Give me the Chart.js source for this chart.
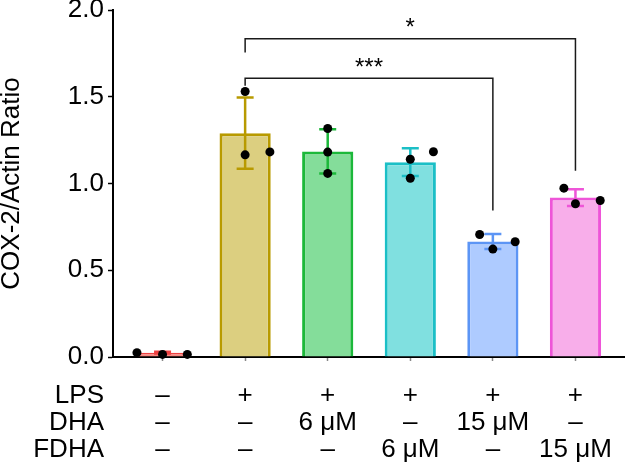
<!DOCTYPE html>
<html><head><meta charset="utf-8">
<script src="https://cdn.jsdelivr.net/npm/chart.js@4"></script>
<style>html,body{margin:0;padding:0;background:#fff}</style>
</head><body>
<canvas id="c" width="625" height="464"></canvas>
<script>
// ---- data ----
const groups = [0, 1, 2, 3, 4, 5];
const means = [0.025, 1.29, 1.185, 1.123, 0.666, 0.919];
const sds = [0.005, 0.205, 0.128, 0.08, 0.043, 0.048];
const replicates = [
  [0.025, 0.015, 0.015],
  [1.53, 1.165, 1.182],
  [1.317, 1.181, 1.058],
  [1.14, 1.03, 1.183],
  [0.706, 0.622, 0.664],
  [0.973, 0.883, 0.902]
];
const jitter = [
  [-0.31, 0, 0.3],
  [0, 0, 0.3],
  [0, 0, 0],
  [0, 0, 0.28],
  [-0.16, 0, 0.27],
  [-0.14, 0, 0.3]
];
const lpsRow = ['–', '+', '+', '+', '+', '+'];
const dhaRow = ['–', '–', '6 μM', '–', '15 μM', '–'];
const fdhaRow = ['–', '–', '–', '6 μM', '–', '15 μM'];
const rowNames = ['LPS', 'DHA', 'FDHA'];
const yTicks = [0, 0.5, 1.0, 1.5, 2.0];
const brackets = [
  { from: 1, to: 4, y: 1.607, leftEnd: 1.563, rightEnd: 0.845, label: '***' },
  { from: 1, to: 5, y: 1.835, leftEnd: 1.755, rightEnd: 1.073, label: '*' }
];

// ---- styles ----
const fills = ['#f8867f', '#dccf80', '#84dd9a', '#80e0e0', '#aecbff', '#f8aeea'];
const borders = ['#ee4040', '#b89a00', '#1cb83a', '#1bbfc6', '#5c95f5', '#ee55d8'];
const FONT = '"Liberation Sans", Arial, sans-serif';
const FS = 26;

const extras = {
  id: 'extras',
  afterDatasetDraw(chart, args) {
    if (args.index !== 0) return;
    const { ctx, scales: { x, y } } = chart;
    ctx.save();
    ctx.lineWidth = 2.5;
    groups.forEach((g, i) => {
      const px = x.getPixelForValue(g);
      const top = y.getPixelForValue(means[i] + sds[i]);
      const bot = y.getPixelForValue(means[i] - sds[i]);
      ctx.strokeStyle = borders[i];
      ctx.beginPath();
      ctx.moveTo(px, top); ctx.lineTo(px, bot);
      ctx.moveTo(px - 8.5, top); ctx.lineTo(px + 8.5, top);
      ctx.moveTo(px - 8.5, bot); ctx.lineTo(px + 8.5, bot);
      ctx.stroke();
    });
    ctx.restore();
  },
  afterDraw(chart) {
    const { ctx, scales: { x, y } } = chart;
    ctx.save();
    // significance brackets
    ctx.strokeStyle = '#1a1a1a';
    ctx.lineWidth = 1.5;
    ctx.fillStyle = '#000';
    ctx.font = '24px ' + FONT;
    ctx.textAlign = 'center';
    ctx.textBaseline = 'alphabetic';
    brackets.forEach(b => {
      const x1 = x.getPixelForValue(b.from), x2 = x.getPixelForValue(b.to);
      const yy = y.getPixelForValue(b.y);
      ctx.beginPath();
      ctx.moveTo(x1, y.getPixelForValue(b.leftEnd));
      ctx.lineTo(x1, yy); ctx.lineTo(x2, yy);
      ctx.lineTo(x2, y.getPixelForValue(b.rightEnd));
      ctx.stroke();
      ctx.fillText(b.label, (x1 + x2) / 2, yy - 3.5);
    });
    // row names of the treatment table
    ctx.font = FS + 'px ' + FONT;
    ctx.textAlign = 'right';
    ctx.textBaseline = 'middle';
    const lh = 27;
    const startY = x.top + 4 + 21;
    rowNames.forEach((n, i) => {
      ctx.fillText(n, 104, startY + lh * (i + 0.5));
    });
    ctx.restore();
  }
};

const points = [];
groups.forEach((g, i) => replicates[i].forEach((v, j) => points.push({ x: g + jitter[i][j], y: v })));

new Chart(document.getElementById('c'), {
  data: {
    datasets: [
      {
        type: 'bar',
        data: groups.map((g, i) => ({ x: g, y: means[i] })),
        backgroundColor: fills,
        borderColor: borders,
        borderWidth: 3,
        barPercentage: 0.62,
        categoryPercentage: 1,
        order: 2
      },
      {
        type: 'scatter',
        data: points,
        pointRadius: 4.5,
        pointBackgroundColor: '#000',
        pointBorderWidth: 0,
        clip: false,
        order: 1
      }
    ]
  },
  options: {
    responsive: false,
    animation: false,
    devicePixelRatio: 1,
    layout: { autoPadding: false, padding: { top: 10, left: 0, right: 0, bottom: 0 } },
    plugins: { legend: { display: false }, tooltip: { enabled: false } },
    scales: {
      x: {
        type: 'linear',
        min: -0.6,
        max: 5.6,
        offset: false,
        afterBuildTicks: s => { s.ticks = groups.map(v => ({ value: v })); },
        grid: { offset: false, drawOnChartArea: false, drawTicks: true, tickLength: 4, tickColor: '#888', tickWidth: 1.5 },
        border: { display: true, color: '#000', width: 2 },
        ticks: {
          autoSkip: false, maxRotation: 0, minRotation: 0, padding: 21, color: '#000',
          font: { family: FONT, size: FS, lineHeight: '27px' },
          callback: v => [lpsRow[v], dhaRow[v], fdhaRow[v]]
        },
        afterFit: s => { s.height = 107; s.paddingLeft = 0; s.paddingRight = 0; }
      },
      y: {
        type: 'linear',
        min: 0,
        max: 2,
        afterBuildTicks: s => { s.ticks = yTicks.map(v => ({ value: v })); },
        grid: { drawOnChartArea: false, drawTicks: true, tickLength: 5, tickColor: '#000', tickWidth: 1.5 },
        border: { display: true, color: '#000', width: 2 },
        ticks: { padding: 4, color: '#000', font: { family: FONT, size: FS }, callback: v => v.toFixed(1) },
        title: { display: true, text: 'COX-2/Actin Ratio', color: '#000', padding: 0, font: { family: FONT, size: FS, lineHeight: 0.9 } },
        afterFit: s => { s.width = 113; s.paddingTop = 0; s.paddingBottom = 0; }
      }
    }
  },
  plugins: [extras]
});
</script>
</body></html>
